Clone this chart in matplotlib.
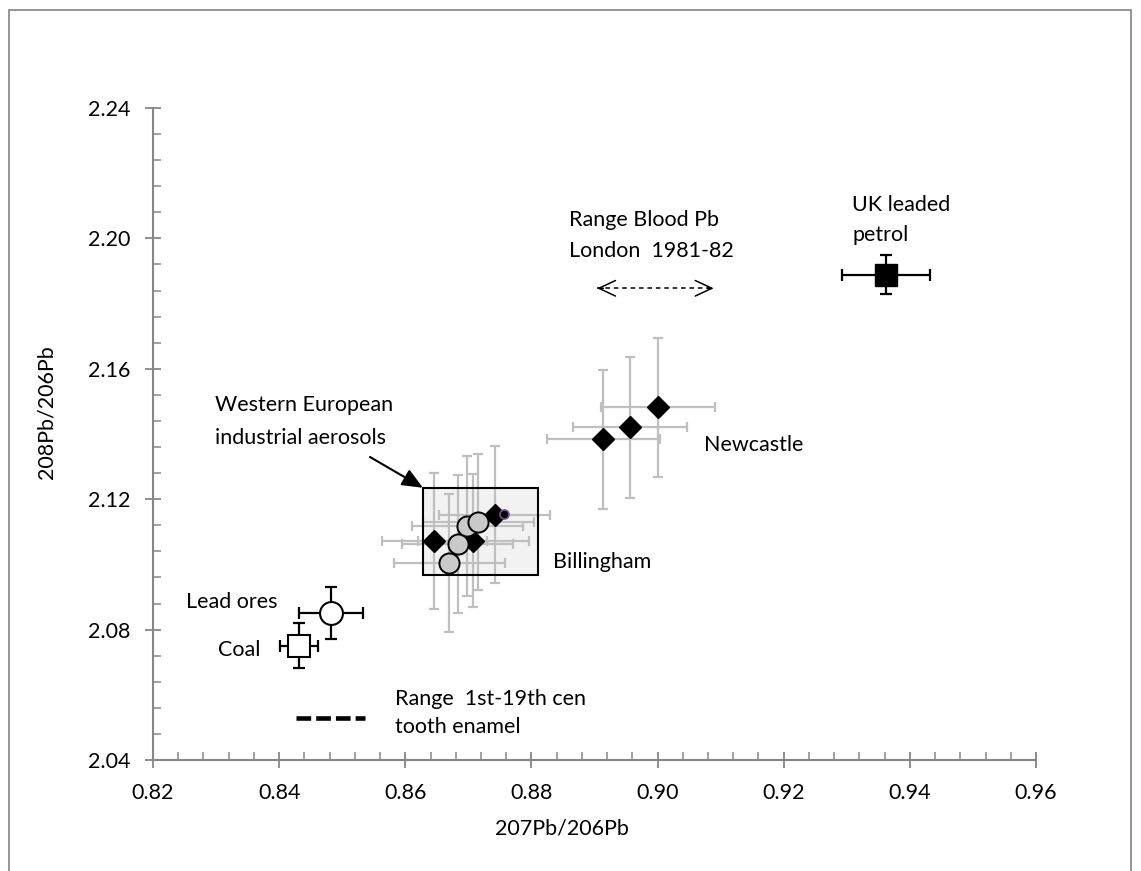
import matplotlib
matplotlib.use("Agg")
import matplotlib.pyplot as plt
from matplotlib.ticker import MultipleLocator, FormatStrFormatter
from matplotlib.patches import Rectangle

plt.rcParams['font.family'] = ['Lato', 'DejaVu Sans']

# ---- data ----
newcastle_x = [0.8914, 0.8956, 0.9001]
newcastle_y = [2.1384, 2.1420, 2.1482]
newcastle_xerr = [0.009, 0.009, 0.009]
newcastle_yerr = [0.0213, 0.0215, 0.0213]

bill_diam_x = [0.8646, 0.8708, 0.8742]
bill_diam_y = [2.1072, 2.1073, 2.1152]
bill_diam_xerr = [0.0083, 0.0088, 0.0088]
bill_diam_yerr = [0.0209, 0.0203, 0.0210]

bill_circ_x = [0.8670, 0.8683, 0.8698, 0.8716]
bill_circ_y = [2.1005, 2.1063, 2.1118, 2.1131]
bill_circ_xerr = [0.0088, 0.0088, 0.0088, 0.0088]
bill_circ_yerr = [0.0212, 0.0212, 0.0215, 0.0209]

purple_x = [0.8757]
purple_y = [2.1154]

petrol_x, petrol_y, petrol_xerr, petrol_yerr = [0.9362], [2.1889], [0.0070], [0.0060]
ores_x, ores_y, ores_xerr, ores_yerr = [0.8482], [2.0850], [0.0051], [0.0080]
coal_x, coal_y, coal_xerr, coal_yerr = [0.8432], [2.0750], [0.0030], [0.0069]

aerosol_box_x = [0.8628, 0.8811]
aerosol_box_y = [2.0968, 2.1235]

blood_range_x = [0.8904, 0.9089]
blood_range_y = 2.1847

enamel_range_x = [0.8427, 0.8536]
enamel_range_y = 2.0528

x_ticks = [0.82, 0.84, 0.86, 0.88, 0.90, 0.92, 0.94, 0.96]
y_ticks = [2.04, 2.08, 2.12, 2.16, 2.20, 2.24]

# ---- figure ----
W, H = 1141, 871
fig = plt.figure(figsize=(W / 100, H / 100), dpi=100)
ax = fig.add_axes([153 / W, 1 - 760 / H, (1036 - 153) / W, (760 - 108) / H])
ax.set_xlim(x_ticks[0], x_ticks[-1])
ax.set_ylim(y_ticks[0], y_ticks[-1])
ax.patch.set_alpha(0)

# outer frame
fig.patches.append(Rectangle((9 / W, -0.05), (1131 - 9) / W, 1 - 10 / H + 0.05,
                             transform=fig.transFigure, fill=False,
                             edgecolor='#8c8c8c', lw=1.3, zorder=0))

GRAY = '#bfbfbf'
AX = '#868686'

# aerosol box
bx0, bx1 = aerosol_box_x
by0, by1 = aerosol_box_y
ax.add_patch(Rectangle((bx0, by0), bx1 - bx0, by1 - by0, facecolor='#f2f2f2',
                       edgecolor='none', zorder=1))
ax.add_patch(Rectangle((bx0, by0), bx1 - bx0, by1 - by0, facecolor='none',
                       edgecolor='black', lw=1.5, zorder=3))

ekw = dict(fmt='none', ecolor=GRAY, elinewidth=1.6, capsize=3.5, capthick=1.6, zorder=2)
ax.errorbar(newcastle_x, newcastle_y, xerr=newcastle_xerr, yerr=newcastle_yerr, **ekw)
ax.errorbar(bill_diam_x, bill_diam_y, xerr=bill_diam_xerr, yerr=bill_diam_yerr, **ekw)
ax.errorbar(bill_circ_x, bill_circ_y, xerr=bill_circ_xerr, yerr=bill_circ_yerr, **ekw)

ax.plot(newcastle_x, newcastle_y, 'D', ms=11, color='black', zorder=4)
ax.plot(bill_diam_x, bill_diam_y, 'D', ms=11, color='black', zorder=4)
ax.plot(bill_circ_x, bill_circ_y, 'o', ms=14.5, markerfacecolor='#c9c9c9',
        markeredgecolor='black', markeredgewidth=1.4, zorder=5)
ax.plot(purple_x, purple_y, 'o', ms=6.5, markerfacecolor='black',
        markeredgecolor='#7a4fa0', markeredgewidth=1.2, zorder=6)

bkw = dict(fmt='none', ecolor='black', elinewidth=1.6, capsize=4, capthick=1.6, zorder=3)
ax.errorbar(petrol_x, petrol_y, xerr=petrol_xerr, yerr=petrol_yerr, **bkw)
ax.errorbar(ores_x, ores_y, xerr=ores_xerr, yerr=ores_yerr, **bkw)
ax.errorbar(coal_x, coal_y, xerr=coal_xerr, yerr=coal_yerr, **bkw)
ax.plot(petrol_x, petrol_y, 's', ms=16, color='black', zorder=4)
ax.plot(ores_x, ores_y, 'o', ms=16.5, markerfacecolor='white',
        markeredgecolor='black', markeredgewidth=1.5, zorder=4)
ax.plot(coal_x, coal_y, 's', ms=16, markerfacecolor='white',
        markeredgecolor='black', markeredgewidth=1.5, zorder=4)

# blood range dashed double arrow
ax.plot(blood_range_x, [blood_range_y] * 2, color='black', lw=1.1,
        linestyle=(0, (3, 2.5)), zorder=3)
for xa, xb in [(blood_range_x[0], blood_range_x[0] + 0.001),
               (blood_range_x[1], blood_range_x[1] - 0.001)]:
    ax.annotate('', xy=(xa, blood_range_y), xytext=(xb, blood_range_y),
                arrowprops=dict(arrowstyle='->,head_length=0.6,head_width=0.28',
                                lw=1.1, color='black', mutation_scale=20,
                                shrinkA=0, shrinkB=0))

# enamel range dashed line
ax.plot(enamel_range_x, [enamel_range_y] * 2, color='black', lw=3.3,
        linestyle=(0, (3.2, 1.1)), solid_capstyle='butt', dash_capstyle='butt', zorder=3)

# aerosol arrow
ax.annotate('', xy=(bx0, by1), xycoords='data', xytext=(370, H - 457),
            textcoords='figure pixels',
            arrowprops=dict(arrowstyle='-|>,head_length=0.7,head_width=0.3',
                            lw=1.5, color='black', mutation_scale=18,
                            shrinkA=0, shrinkB=0))

# axes styling
for s in ['top', 'right']:
    ax.spines[s].set_visible(False)
for s in ['left', 'bottom']:
    ax.spines[s].set_color(AX)
    ax.spines[s].set_linewidth(1.5)
ax.set_xticks(x_ticks)
ax.set_yticks(y_ticks)
ax.xaxis.set_major_formatter(FormatStrFormatter('%.2f'))
ax.yaxis.set_major_formatter(FormatStrFormatter('%.2f'))
ax.xaxis.set_minor_locator(MultipleLocator(0.004))
ax.yaxis.set_minor_locator(MultipleLocator(0.008))
ax.tick_params(which='major', direction='inout', length=11, width=1.3, color=AX,
               labelsize=15.5, pad=11)
ax.tick_params(which='minor', direction='in', length=6, width=1.1, color=AX)

FS = 15.5
def ftext(px, py, s, ha='left', **kw):
    fig.text(px / W, 1 - py / H, s, ha=ha, va='center', fontsize=FS, **kw)

ftext(562, 828, '207Pb/206Pb', ha='center')
ftext(47, 412, '208Pb/206Pb', ha='center', rotation=90)
ftext(569, 220, 'Range Blood Pb')
ftext(569, 251, 'London  1981-82')
ftext(852, 205, 'UK leaded')
ftext(852, 235, 'petrol')
ftext(704, 445, 'Newcastle')
ftext(553, 562, 'Billingham')
ftext(215, 405, 'Western European')
ftext(215, 438, 'industrial aerosols')
ftext(278, 602, 'Lead ores', ha='right')
ftext(260, 650, 'Coal', ha='right')
ftext(395, 699, 'Range  1st-19th cen')
ftext(395, 727, 'tooth enamel')

fig.savefig('out.png', dpi=100)
